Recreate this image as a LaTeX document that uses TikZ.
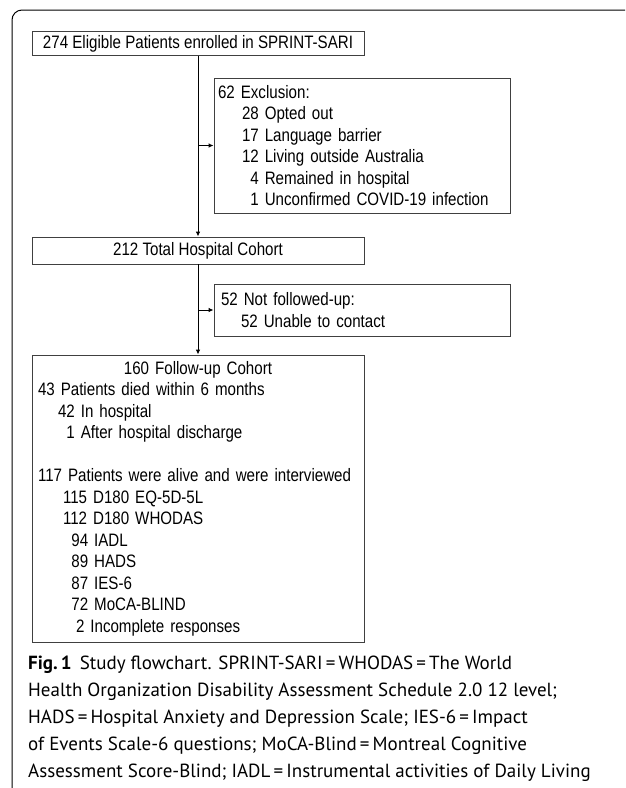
\documentclass[tikz,border=0pt]{standalone}
\usepackage{fontspec}
\usepackage{tikz}
\usetikzlibrary{arrows.meta, calc}
\newfontfamily\boxfont[FakeStretch=0.84]{Liberation Sans}
\newfontfamily\capfont{PT Sans}

\begin{document}
\begin{tikzpicture}[x=1pt, y=-1pt,
    flowbox/.style={draw=black!75, line width=0.8pt, inner sep=0pt,
        font=\boxfont\fontsize{18}{21.5}\selectfont},
    flowarrow/.style={line width=1pt, -{Latex[length=5pt, width=4.5pt]}}]
    \useasboundingbox (0,0) rectangle (625,788);
    % outer frame, cut by the page edge
    \draw[line width=1pt, rounded corners=10pt] (625,10) -- (12,10) -- (12,788);
    \node[flowbox, minimum width=332pt, minimum height=24pt] (elig) at (198,43.5)
        {274 Eligible Patients enrolled in SPRINT-SARI};
    \node[flowbox, minimum width=296pt, minimum height=135pt, text width=288pt, align=left] (excl) at (362,145.5)
        {62 Exclusion:\\
         \hspace*{24pt}28 Opted out\\
         \hspace*{24pt}17 Language barrier\\
         \hspace*{24pt}12 Living outside Australia\\
         \hspace*{24pt}\phantom{0}4 Remained in hospital\\
         \hspace*{24pt}\phantom{0}1 Unconfirmed COVID-19 infection};
    \node[flowbox, minimum width=332pt, minimum height=27pt] (total) at (198,250.5)
        {212 Total Hospital Cohort};
    \node[flowbox, minimum width=296pt, minimum height=52pt, text width=282pt, align=left] (notfu) at (362,310)
        {52 Not followed-up:\\
         \hspace*{20pt}52 Unable to contact};
    \node[flowbox, minimum width=332pt, minimum height=287pt, text width=320pt, align=left] (fu) at (198,498.5)
        {\makebox[320pt]{160 Follow-up Cohort}\\
         43 Patients died within 6 months\\
         \hspace*{20pt}42 In hospital\\
         \hspace*{20pt}\phantom{0}1 After hospital discharge\\[21.5pt]
         117 Patients were alive and were interviewed\\
         \hspace*{25pt}115 D180 EQ-5D-5L\\
         \hspace*{25pt}112 D180 WHODAS\\
         \hspace*{25pt}\phantom{0}94 IADL\\
         \hspace*{25pt}\phantom{0}89 HADS\\
         \hspace*{25pt}\phantom{0}87 IES-6\\
         \hspace*{25pt}\phantom{0}72 MoCA-BLIND\\
         \hspace*{38pt}2 Incomplete responses};
    \draw[flowarrow] (elig.south) -- (total.north);
    \draw[flowarrow] (elig.south |- excl.west) -- (excl.west);
    \draw[flowarrow] (total.south) -- (fu.north);
    \draw[flowarrow] (total.south |- notfu.west) -- (notfu.west);
    % caption
    \node[anchor=north west, align=left, inner sep=0pt,
        font=\capfont\fontsize{19}{27}\selectfont] (caption) at (28,656)
        {\textbf{Fig.\,1}\hspace{8pt}Study flowchart. SPRINT-SARI\,=\,WHODAS\,=\,The World\\
         Health Organization Disability Assessment Schedule 2.0 12 level;\\
         HADS\,=\,Hospital Anxiety and Depression Scale; IES-6\,=\,Impact\\
         of Events Scale-6 questions; MoCA-Blind\,=\,Montreal Cognitive\\
         Assessment Score-Blind; IADL\,=\,Instrumental activities of Daily Living};
\end{tikzpicture}
\end{document}
